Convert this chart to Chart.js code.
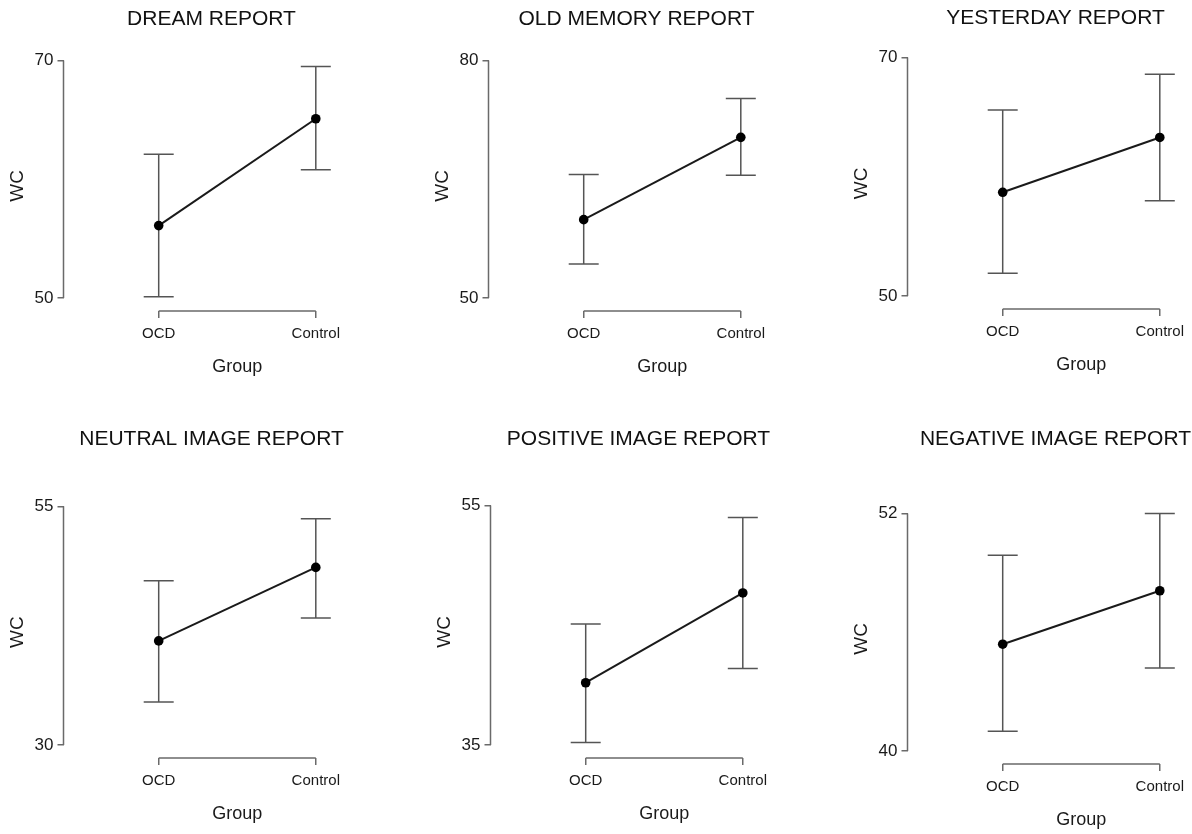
<!DOCTYPE html>
<html>
<head>
<meta charset="utf-8">
<script src="https://cdn.jsdelivr.net/npm/chart.js@4.4.1/dist/chart.umd.min.js"></script>
<style>
  html, body { margin: 0; padding: 0; background: #fff; overflow: hidden; }
  #wrap { position: relative; width: 1192px; height: 834px; overflow: hidden; }
  canvas { position: absolute; }
</style>
</head>
<body>
<div id="wrap"></div>
<script>
// data
const panelTitles = ['DREAM REPORT', 'OLD MEMORY REPORT', 'YESTERDAY REPORT',
                     'NEUTRAL IMAGE REPORT', 'POSITIVE IMAGE REPORT', 'NEGATIVE IMAGE REPORT'];
const groups = ['OCD', 'Control'];
const yTicks = [[50, 70], [50, 80], [50, 70], [30, 55], [35, 55], [40, 52]];
const means = [[56.1, 65.1], [59.9, 70.3], [58.7, 63.3], [40.9, 48.6], [40.2, 47.7], [45.4, 48.1]];
const ciLower = [[50.1, 60.8], [54.3, 65.5], [51.9, 58.0], [34.5, 43.3], [35.2, 41.4], [41.0, 44.2]];
const ciUpper = [[62.1, 69.5], [65.6, 75.2], [65.6, 68.6], [47.2, 53.7], [45.1, 54.0], [49.9, 52.0]];

// where each panel sits on the page: y-axis x, top tick y, title y, axis length
const layout = [
  { axisX: 63.3, topY: 61, titleY: 20, axisH: 237 },
  { axisX: 488.3, topY: 61, titleY: 20, axisH: 237.3 },
  { axisX: 907.3, topY: 57.3, titleY: 18.3, axisH: 238.3 },
  { axisX: 63.3, topY: 506.7, titleY: 440, axisH: 238.3 },
  { axisX: 490, topY: 506, titleY: 440, axisH: 239 },
  { axisX: 907.3, topY: 514, titleY: 440, axisH: 237.7 }
];

const AXIS_GAP = 13;      // px between lowest y tick and the x bracket
const Y_WIDTH = 51.5;
const X_HEIGHT = 68;
const SIDE_PAD = 12;
const CANVAS_W = 399 + 2 * SIDE_PAD;
const AXIS_COLOR = '#6a6a6a';
const TEXT_COLOR = '#1a1a1a';

// error bars drawn from the dataset's lower/upper arrays
const errorBars = {
  id: 'errorBars',
  beforeDatasetsDraw(chart) {
    const { ctx, scales: { x, y } } = chart;
    ctx.save();
    ctx.strokeStyle = '#555';
    ctx.lineWidth = 1.5;
    chart.data.datasets.forEach(ds => {
      ds.lower.forEach((lo, j) => {
        const px = x.getPixelForValue(j);
        const yl = y.getPixelForValue(lo), yh = y.getPixelForValue(ds.upper[j]);
        ctx.beginPath();
        ctx.moveTo(px, yl); ctx.lineTo(px, yh);
        ctx.moveTo(px - 15, yl); ctx.lineTo(px + 15, yl);
        ctx.moveTo(px - 15, yh); ctx.lineTo(px + 15, yh);
        ctx.stroke();
      });
    });
    ctx.restore();
  }
};

// R-style axis lines: y from lowest to highest tick, x bracket between groups
const rAxes = {
  id: 'rAxes',
  afterDraw(chart) {
    const { ctx, chartArea, scales: { x, y } } = chart;
    const ticks = y.ticks.map(t => t.value);
    ctx.save();
    ctx.strokeStyle = AXIS_COLOR;
    ctx.lineWidth = 1.5;
    ctx.beginPath();
    ctx.moveTo(chartArea.left, y.getPixelForValue(Math.min(...ticks)));
    ctx.lineTo(chartArea.left, y.getPixelForValue(Math.max(...ticks)));
    ctx.moveTo(x.getPixelForValue(0), chartArea.bottom);
    ctx.lineTo(x.getPixelForValue(groups.length - 1), chartArea.bottom);
    ctx.stroke();
    ctx.restore();
  }
};

const wrap = document.getElementById('wrap');

panelTitles.forEach((title, i) => {
  const L = layout[i];
  const [lo, hi] = yTicks[i];
  const canvasTop = L.titleY - 12.6;
  const bracketY = L.topY + L.axisH + AXIS_GAP;
  const h = Math.round(bracketY - canvasTop + X_HEIGHT);

  const cv = document.createElement('canvas');
  cv.width = CANVAS_W; cv.height = h;
  cv.style.left = (L.axisX - Y_WIDTH - SIDE_PAD) + 'px';
  cv.style.top = canvasTop + 'px';
  cv.style.width = CANVAS_W + 'px'; cv.style.height = h + 'px';
  wrap.appendChild(cv);

  new Chart(cv.getContext('2d'), {
    type: 'line',
    data: {
      datasets: [{
        data: means[i].map((m, j) => ({ x: j, y: m })),
        lower: ciLower[i],
        upper: ciUpper[i],
        borderColor: '#1a1a1a',
        borderWidth: 2,
        pointRadius: 4.8,
        pointBackgroundColor: '#000',
        pointBorderWidth: 0,
        tension: 0
      }]
    },
    options: {
      responsive: false,
      animation: false,
      layout: { padding: { left: SIDE_PAD, right: SIDE_PAD, top: 0, bottom: 0 } },
      plugins: {
        legend: { display: false },
        tooltip: { enabled: false },
        title: {
          display: true, text: title, color: '#111',
          font: { family: 'Liberation Sans', size: 21, weight: 'normal', lineHeight: 1.2 },
          padding: { top: 0, bottom: L.topY - L.titleY - 12.6 }
        }
      },
      scales: {
        x: {
          type: 'linear', min: -0.606, max: 1.606,
          afterBuildTicks: s => { s.ticks = groups.map((g, j) => ({ value: j })); },
          afterFit: s => { s.height = X_HEIGHT; },
          border: { display: false },
          grid: { drawOnChartArea: false, tickLength: 7, color: AXIS_COLOR, lineWidth: 1.5 },
          ticks: {
            padding: 6.5, maxRotation: 0, autoSkip: false, color: TEXT_COLOR,
            callback: v => groups[v],
            font: { family: 'Liberation Sans', size: 15 }
          },
          title: {
            display: true, text: 'Group', padding: 0, color: TEXT_COLOR,
            font: { family: 'Liberation Sans', size: 18, lineHeight: 1.33 }
          }
        },
        y: {
          min: lo - (hi - lo) * AXIS_GAP / L.axisH, max: hi,
          afterBuildTicks: s => { s.ticks = yTicks[i].map(v => ({ value: v })); },
          afterFit: s => { s.width = Y_WIDTH; },
          border: { display: false },
          grid: { drawOnChartArea: false, tickLength: 6, color: AXIS_COLOR, lineWidth: 1.5 },
          ticks: { padding: 4, color: TEXT_COLOR, font: { family: 'Liberation Sans', size: 17 } },
          title: {
            display: true, text: 'WC', padding: 0, color: TEXT_COLOR,
            font: { family: 'Liberation Sans', size: 19, lineHeight: 0.58 }
          }
        }
      }
    },
    plugins: [errorBars, rAxes]
  });
});
</script>
</body>
</html>
